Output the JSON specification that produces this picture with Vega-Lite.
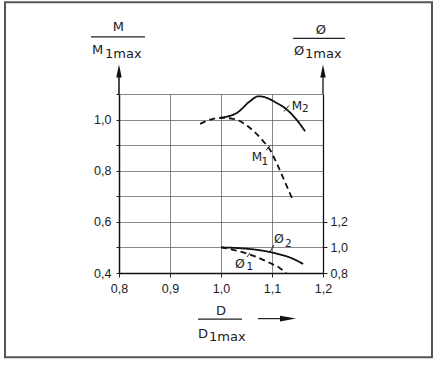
{
  "$schema": "https://vega.github.io/schema/vega-lite/v6.json",
  "autosize": "none",
  "width": 204,
  "height": 179,
  "padding": {"left": 119, "top": 94, "right": 112, "bottom": 92},
  "background": "white",
  "config": {
    "view": {"stroke": null},
    "axis": {"labelFont": "Liberation Sans", "labelFontSize": 12.5, "labelColor": "#222", "tickColor": "#222", "domainColor": "#111", "gridColor": "#555", "gridWidth": 0.7, "gridOpacity": 1, "tickWidth": 1, "labelFlush": false}
  },
  "datasets": {
    "M": [
      {"curve": "M2", "d": 0.998, "v": 1.007},
      {"curve": "M2", "d": 1.031, "v": 1.026},
      {"curve": "M2", "d": 1.057, "v": 1.072},
      {"curve": "M2", "d": 1.073, "v": 1.091},
      {"curve": "M2", "d": 1.083, "v": 1.089},
      {"curve": "M2", "d": 1.109, "v": 1.065},
      {"curve": "M2", "d": 1.129, "v": 1.039},
      {"curve": "M2", "d": 1.148, "v": 1.0},
      {"curve": "M2", "d": 1.165, "v": 0.954},
      {"curve": "M1", "d": 0.959, "v": 0.983},
      {"curve": "M1", "d": 0.998, "v": 1.007},
      {"curve": "M1", "d": 1.024, "v": 1.003},
      {"curve": "M1", "d": 1.057, "v": 0.967},
      {"curve": "M1", "d": 1.083, "v": 0.915},
      {"curve": "M1", "d": 1.096, "v": 0.882},
      {"curve": "M1", "d": 1.109, "v": 0.83},
      {"curve": "M1", "d": 1.125, "v": 0.758},
      {"curve": "M1", "d": 1.142, "v": 0.68}
    ],
    "Phi": [
      {"curve": "Ø2", "d": 1.0, "v": 1.0},
      {"curve": "Ø2", "d": 1.037, "v": 0.994},
      {"curve": "Ø2", "d": 1.0725, "v": 0.98},
      {"curve": "Ø2", "d": 1.106, "v": 0.955},
      {"curve": "Ø2", "d": 1.139, "v": 0.915},
      {"curve": "Ø2", "d": 1.161, "v": 0.871},
      {"curve": "Ø1", "d": 1.0, "v": 1.0},
      {"curve": "Ø1", "d": 1.02, "v": 0.985},
      {"curve": "Ø1", "d": 1.045, "v": 0.96},
      {"curve": "Ø1", "d": 1.07, "v": 0.925},
      {"curve": "Ø1", "d": 1.095, "v": 0.88},
      {"curve": "Ø1", "d": 1.115, "v": 0.84},
      {"curve": "Ø1", "d": 1.128, "v": 0.8}
    ]
  },
  "layer": [
    {
      "layer": [
        {
          "data": {"name": "M"},
          "mark": {"type": "line", "color": "#111", "strokeWidth": 1.8, "interpolate": "monotone", "strokeCap": "butt"},
          "encoding": {
            "x": {"field": "d", "type": "quantitative", "scale": {"domain": [0.8, 1.2], "nice": false, "zero": false},
              "axis": {"orient": "bottom", "values": [0.8, 0.9, 1.0, 1.1, 1.2], "title": null, "grid": true, "domainWidth": 1.5, "tickSize": 4, "labelPadding": 5, "labelExpr": "replace(format(datum.value,'.1f'),'.',',')"}},
            "y": {"field": "v", "type": "quantitative", "scale": {"domain": [0.4, 1.1], "nice": false, "zero": false},
              "axis": {"orient": "left", "values": [0.4, 0.5, 0.6, 0.7, 0.8, 0.9, 1.0, 1.1], "title": null, "grid": true, "domainWidth": 1.5, "tickSize": 3, "labelPadding": 5, "labelExpr": "round(datum.value*10)%2==0 ? replace(format(datum.value,'.1f'),'.',',') : ''"}},
            "detail": {"field": "curve"},
            "strokeDash": {"field": "curve", "type": "nominal", "scale": {"domain": ["M1", "M2"], "range": [[6, 4], [1, 0]]}, "legend": null}
          }
        },
        {"data": {"values": [{}]}, "mark": {"type": "rect", "fill": null, "stroke": "#555", "strokeWidth": 2},
          "encoding": {"x": {"datum": 0.5765, "type": "quantitative", "axis": null}, "x2": {"datum": 1.4137}, "y": {"datum": 0.0706, "type": "quantitative", "axis": null}, "y2": {"datum": 1.4588}}},
        {"data": {"values": [{}]}, "mark": {"type": "rule", "color": "#111", "strokeWidth": 1.5},
          "encoding": {"x": {"datum": 0.8, "type": "quantitative", "axis": null}, "y": {"datum": 1.1, "type": "quantitative", "axis": null}, "y2": {"datum": 1.18}}},
        {"data": {"values": [{}]}, "mark": {"type": "rule", "color": "#111", "strokeWidth": 1.3},
          "encoding": {"x": {"datum": 1.2, "type": "quantitative", "axis": null}, "y": {"datum": 1.1, "type": "quantitative", "axis": null}, "y2": {"datum": 1.18}}},
        {"data": {"values": [{}]}, "mark": {"type": "point", "shape": "M0,-1L0.42,1L-0.42,1Z", "filled": true, "color": "#111", "opacity": 1, "size": 169},
          "encoding": {"x": {"datum": 0.8, "type": "quantitative", "axis": null}, "y": {"datum": 1.1902, "type": "quantitative", "axis": null}}},
        {"data": {"values": [{}]}, "mark": {"type": "point", "shape": "M0,-1L0.42,1L-0.42,1Z", "filled": true, "color": "#111", "opacity": 1, "size": 169},
          "encoding": {"x": {"datum": 1.2, "type": "quantitative", "axis": null}, "y": {"datum": 1.1902, "type": "quantitative", "axis": null}}},
        {"data": {"values": [{}]}, "mark": {"type": "rule", "color": "#222", "strokeWidth": 1.2},
          "encoding": {"x": {"datum": 0.745, "type": "quantitative", "axis": null}, "x2": {"datum": 0.851}, "y": {"datum": 1.3235, "type": "quantitative", "axis": null}}},
        {"data": {"values": [{}]}, "mark": {"type": "rule", "color": "#222", "strokeWidth": 1.2},
          "encoding": {"x": {"datum": 1.1412, "type": "quantitative", "axis": null}, "x2": {"datum": 1.2431}, "y": {"datum": 1.3176, "type": "quantitative", "axis": null}}},
        {"data": {"values": [{}]}, "mark": {"type": "rule", "color": "#222", "strokeWidth": 1.2},
          "encoding": {"x": {"datum": 0.9549, "type": "quantitative", "axis": null}, "x2": {"datum": 1.0412}, "y": {"datum": 0.2196, "type": "quantitative", "axis": null}}},
        {"data": {"values": [{}]}, "mark": {"type": "rule", "color": "#222", "strokeWidth": 1.2},
          "encoding": {"x": {"datum": 1.0725, "type": "quantitative", "axis": null}, "x2": {"datum": 1.1216}, "y": {"datum": 0.2216, "type": "quantitative", "axis": null}}},
        {"data": {"values": [{}]}, "mark": {"type": "point", "shape": "M1,0L-1,-0.35L-1,0.35Z", "filled": true, "color": "#111", "opacity": 1, "size": 256},
          "encoding": {"x": {"datum": 1.1314, "type": "quantitative", "axis": null}, "y": {"datum": 0.2216, "type": "quantitative", "axis": null}}},
        {"data": {"values": [{}]}, "mark": {"type": "text", "text": "M", "font": "DejaVu Sans", "fontSize": 13, "align": "center", "baseline": "alphabetic", "color": "#222"},
          "encoding": {"x": {"datum": 0.7986, "type": "quantitative", "axis": null}, "y": {"datum": 1.345, "type": "quantitative", "axis": null}}},
        {"data": {"values": [{}]}, "mark": {"type": "text", "text": "M", "font": "DejaVu Sans", "fontSize": 13, "align": "left", "baseline": "alphabetic", "color": "#222"},
          "encoding": {"x": {"datum": 0.747, "type": "quantitative", "axis": null}, "y": {"datum": 1.2549, "type": "quantitative", "axis": null}}},
        {"data": {"values": [{}]}, "mark": {"type": "text", "text": "1max", "font": "DejaVu Sans", "fontSize": 13, "align": "left", "baseline": "alphabetic", "color": "#222"},
          "encoding": {"x": {"datum": 0.7725, "type": "quantitative", "axis": null}, "y": {"datum": 1.2412, "type": "quantitative", "axis": null}}},
        {"data": {"values": [{}]}, "mark": {"type": "text", "text": "Ø", "font": "DejaVu Sans", "fontSize": 13, "align": "center", "baseline": "alphabetic", "color": "#222"},
          "encoding": {"x": {"datum": 1.196, "type": "quantitative", "axis": null}, "y": {"datum": 1.3333, "type": "quantitative", "axis": null}}},
        {"data": {"values": [{}]}, "mark": {"type": "text", "text": "Ø", "font": "DejaVu Sans", "fontSize": 13, "align": "left", "baseline": "alphabetic", "color": "#222"},
          "encoding": {"x": {"datum": 1.1431, "type": "quantitative", "axis": null}, "y": {"datum": 1.251, "type": "quantitative", "axis": null}}},
        {"data": {"values": [{}]}, "mark": {"type": "text", "text": "1max", "font": "DejaVu Sans", "fontSize": 13, "align": "left", "baseline": "alphabetic", "color": "#222"},
          "encoding": {"x": {"datum": 1.1647, "type": "quantitative", "axis": null}, "y": {"datum": 1.2412, "type": "quantitative", "axis": null}}},
        {"data": {"values": [{}]}, "mark": {"type": "text", "text": "D", "font": "DejaVu Sans", "fontSize": 13, "align": "center", "baseline": "alphabetic", "color": "#222"},
          "encoding": {"x": {"datum": 1.0, "type": "quantitative", "axis": null}, "y": {"datum": 0.2353, "type": "quantitative", "axis": null}}},
        {"data": {"values": [{}]}, "mark": {"type": "text", "text": "D", "font": "DejaVu Sans", "fontSize": 13, "align": "left", "baseline": "alphabetic", "color": "#222"},
          "encoding": {"x": {"datum": 0.9549, "type": "quantitative", "axis": null}, "y": {"datum": 0.1451, "type": "quantitative", "axis": null}}},
        {"data": {"values": [{}]}, "mark": {"type": "text", "text": "1max", "font": "DejaVu Sans", "fontSize": 13, "align": "left", "baseline": "alphabetic", "color": "#222"},
          "encoding": {"x": {"datum": 0.9765, "type": "quantitative", "axis": null}, "y": {"datum": 0.1333, "type": "quantitative", "axis": null}}},
        {"data": {"values": [{}]}, "mark": {"type": "text", "text": "M", "font": "DejaVu Sans", "fontSize": 12, "align": "left", "baseline": "alphabetic", "color": "#222"},
          "encoding": {"x": {"datum": 1.1386, "type": "quantitative", "axis": null}, "y": {"datum": 1.0392, "type": "quantitative", "axis": null}}},
        {"data": {"values": [{}]}, "mark": {"type": "text", "text": "2", "font": "DejaVu Sans", "fontSize": 10.5, "align": "left", "baseline": "alphabetic", "color": "#222"},
          "encoding": {"x": {"datum": 1.1588, "type": "quantitative", "axis": null}, "y": {"datum": 1.0294, "type": "quantitative", "axis": null}}},
        {"data": {"values": [{}]}, "mark": {"type": "rule", "color": "#222", "strokeWidth": 1},
          "encoding": {"x": {"datum": 1.1235, "type": "quantitative", "axis": null}, "x2": {"datum": 1.1333}, "y": {"datum": 1.0314, "type": "quantitative", "axis": null}, "y2": {"datum": 1.0549}}},
        {"data": {"values": [{}]}, "mark": {"type": "text", "text": "M", "font": "DejaVu Sans", "fontSize": 12, "align": "left", "baseline": "alphabetic", "color": "#222"},
          "encoding": {"x": {"datum": 1.0602, "type": "quantitative", "axis": null}, "y": {"datum": 0.8365, "type": "quantitative", "axis": null}}},
        {"data": {"values": [{}]}, "mark": {"type": "text", "text": "1", "font": "DejaVu Sans", "fontSize": 10.5, "align": "left", "baseline": "alphabetic", "color": "#222"},
          "encoding": {"x": {"datum": 1.0794, "type": "quantitative", "axis": null}, "y": {"datum": 0.8235, "type": "quantitative", "axis": null}}},
        {"data": {"values": [{}]}, "mark": {"type": "rule", "color": "#222", "strokeWidth": 1},
          "encoding": {"x": {"datum": 1.0882, "type": "quantitative", "axis": null}, "x2": {"datum": 1.0961}, "y": {"datum": 0.8796, "type": "quantitative", "axis": null}, "y2": {"datum": 0.898}}},
        {"data": {"values": [{}]}, "mark": {"type": "text", "text": "Ø", "font": "DejaVu Sans", "fontSize": 12.5, "align": "left", "baseline": "alphabetic", "color": "#222"},
          "encoding": {"x": {"datum": 1.1039, "type": "quantitative", "axis": null}, "y": {"datum": 0.5176, "type": "quantitative", "axis": null}}},
        {"data": {"values": [{}]}, "mark": {"type": "text", "text": "2", "font": "DejaVu Sans", "fontSize": 10.5, "align": "left", "baseline": "alphabetic", "color": "#222"},
          "encoding": {"x": {"datum": 1.1255, "type": "quantitative", "axis": null}, "y": {"datum": 0.502, "type": "quantitative", "axis": null}}},
        {"data": {"values": [{}]}, "mark": {"type": "rule", "color": "#222", "strokeWidth": 1},
          "encoding": {"x": {"datum": 1.0961, "type": "quantitative", "axis": null}, "x2": {"datum": 1.1039}, "y": {"datum": 0.4824, "type": "quantitative", "axis": null}, "y2": {"datum": 0.5098}}},
        {"data": {"values": [{}]}, "mark": {"type": "text", "text": "Ø", "font": "DejaVu Sans", "fontSize": 12.5, "align": "left", "baseline": "alphabetic", "color": "#222"},
          "encoding": {"x": {"datum": 1.0275, "type": "quantitative", "axis": null}, "y": {"datum": 0.4196, "type": "quantitative", "axis": null}}},
        {"data": {"values": [{}]}, "mark": {"type": "text", "text": "1", "font": "DejaVu Sans", "fontSize": 10.5, "align": "left", "baseline": "alphabetic", "color": "#222"},
          "encoding": {"x": {"datum": 1.0500, "type": "quantitative", "axis": null}, "y": {"datum": 0.4118, "type": "quantitative", "axis": null}}},
        {"data": {"values": [{}]}, "mark": {"type": "rule", "color": "#222", "strokeWidth": 1},
          "encoding": {"x": {"datum": 1.051, "type": "quantitative", "axis": null}, "x2": {"datum": 1.0569}, "y": {"datum": 0.4627, "type": "quantitative", "axis": null}, "y2": {"datum": 0.4784}}}
      ],
      "resolve": {"axis": {"x": "independent", "y": "independent"}}
    },
    {
      "data": {"name": "Phi"},
      "mark": {"type": "line", "color": "#111", "strokeWidth": 1.8, "interpolate": "monotone", "strokeCap": "butt"},
      "encoding": {
        "x": {"field": "d", "type": "quantitative", "axis": null},
        "y": {"field": "v", "type": "quantitative", "scale": {"domain": [0.8, 2.2], "nice": false, "zero": false},
          "axis": {"orient": "right", "values": [0.8, 1.0, 1.2], "title": null, "grid": false, "domainWidth": 1.3, "tickSize": 4, "labelPadding": 3, "labelExpr": "replace(format(datum.value,'.1f'),'.',',')"}},
        "detail": {"field": "curve"},
        "strokeDash": {"field": "curve", "type": "nominal", "scale": {"domain": ["Ø1", "Ø2"], "range": [[6, 4], [1, 0]]}, "legend": null}
      }
    }
  ],
  "resolve": {"scale": {"y": "independent", "strokeDash": "independent"}, "axis": {"x": "independent", "y": "independent"}}
}
